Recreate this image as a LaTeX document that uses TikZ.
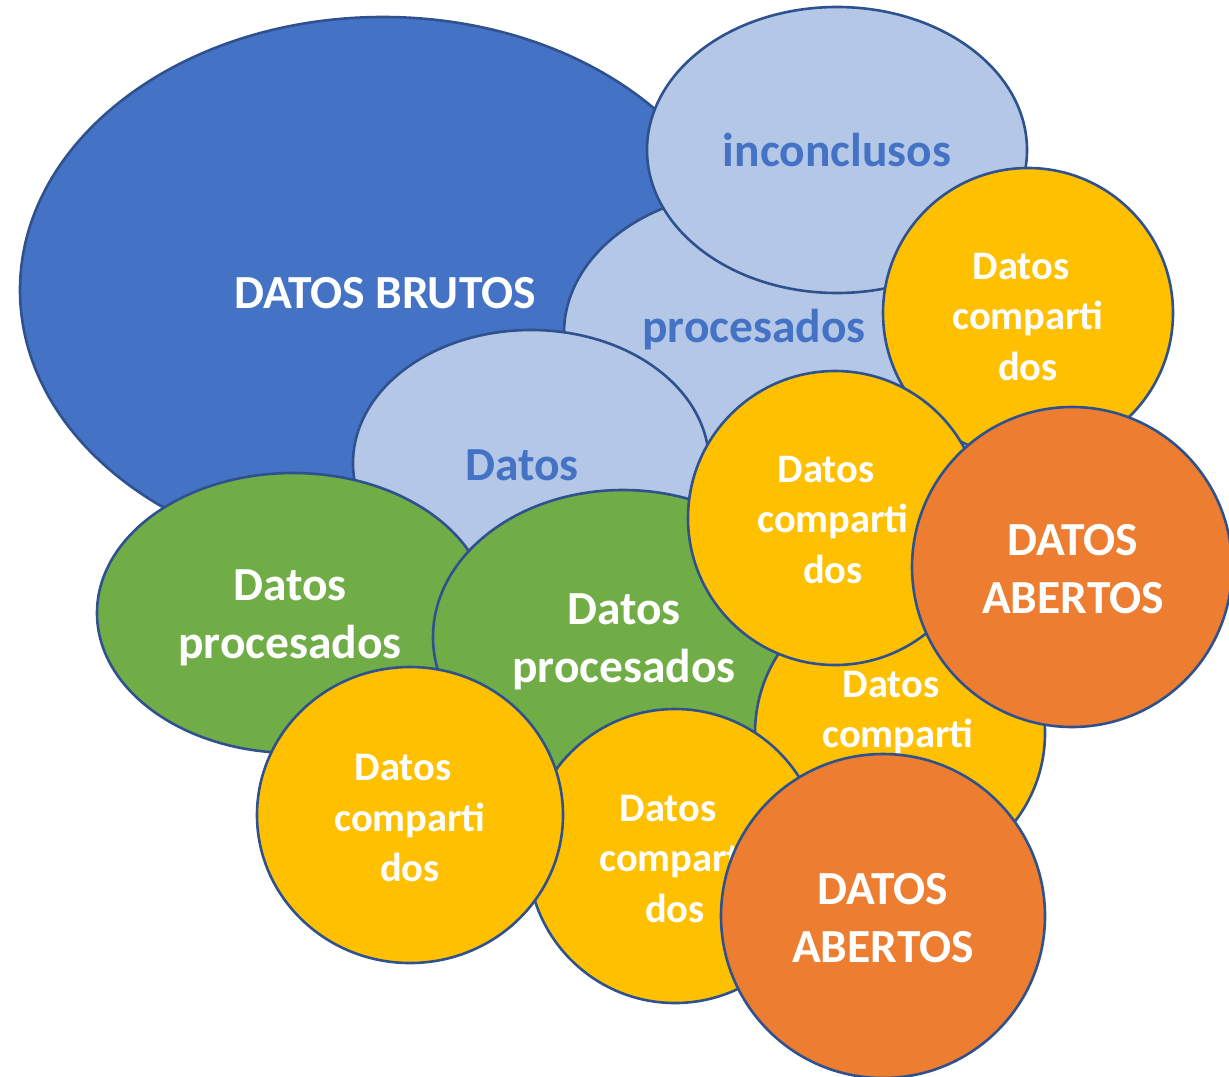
\documentclass[tikz,border=0pt]{standalone}
\usepackage{fontspec}
\setmainfont{Carlito}
\usetikzlibrary{shapes.geometric}
\definecolor{outl}{HTML}{2F528F}
\definecolor{dblue}{HTML}{4472C4}
\definecolor{lblue}{HTML}{B4C7E7}
\definecolor{dgreen}{HTML}{70AD47}
\definecolor{gold}{HTML}{FFC000}
\definecolor{dorange}{HTML}{ED7D31}
\begin{document}
\begin{tikzpicture}[x=0.5pt,y=-0.5pt,
  blob/.style={ellipse, draw=outl, line width=1.3pt, inner sep=0pt},
  bigtxt/.style={inner sep=0pt, align=center, text=white, font=\bfseries\fontsize{23.75}{29}\selectfont},
  bluetxt/.style={bigtxt, text=dblue},
  smalltxt/.style={inner sep=0pt, align=center, text=white, font=\bfseries\fontsize{20.25}{25.4}\selectfont},
  ybl/.style={blob, fill=gold},
  orb/.style={blob, fill=dorange},
  grb/.style={blob, fill=dgreen},
  lbb/.style={blob, fill=lblue}
]
\useasboundingbox (0,0) rectangle (1229,1076);
% big blue
\node[blob, fill=dblue, minimum width=363pt, minimum height=273pt] (brutos) at (383,290) {};
\node[bigtxt] (brutosT) at (385,293) {DATOS BRUTOS};
% light blue ellipses
\node[lbb, minimum width=190pt, minimum height=142pt] (proc) at (754,333) {};
\node[bluetxt] (procT) at (754,330) {procesados};
\node[lbb, minimum width=190pt, minimum height=143pt] (inco) at (837,150) {};
\node[bluetxt] (incoT) at (837,150) {inconclusos};
\node[lbb, minimum width=178pt, minimum height=133pt] (dlb) at (531,463) {};
\node[bluetxt] (dlbT) at (522,465) {Datos};
% yellow top right
\node[ybl, minimum width=145pt, minimum height=145pt] (ytr) at (1028,313) {};
\node[smalltxt] (ytrT) at (1028,317) {Datos\rule{7pt}{0pt}\\comparti\\dos};
% greens
\node[grb, minimum width=196pt, minimum height=140pt] (gl) at (293,613) {};
\node[bigtxt] (glT) at (290,618) {Datos\\procesados};
\node[grb, minimum width=190pt, minimum height=147pt] (gm) at (623,637) {};
\node[bigtxt] (gmT) at (624,642) {Datos\\procesados};
% yellow lower right
\node[ybl, minimum width=145pt, minimum height=145pt] (ylr) at (900,733) {};
\node[smalltxt] (ylrT) at (898,735) {Datos\rule{7pt}{0pt}\\comparti\\dos};
% yellow middle
\node[ybl, minimum width=147pt, minimum height=147pt] (ym) at (835,518) {};
\node[smalltxt] (ymT) at (833,520) {Datos\rule{7pt}{0pt}\\comparti\\dos};
% orange right
\node[orb, minimum width=160pt, minimum height=160pt] (orr) at (1072,567) {};
\node[bigtxt] (orrT) at (1073,569) {DATOS\\ABERTOS};
% yellow bottom middle
\node[ybl, minimum width=147pt, minimum height=147pt] (ybm) at (675,856) {};
\node[smalltxt] (ybmT) at (675,859) {Datos\rule{7pt}{0pt}\\comparti\\dos};
% yellow bottom left
\node[ybl, minimum width=153pt, minimum height=148pt] (ybl) at (410,815) {};
\node[smalltxt] (yblT) at (410,818) {Datos\rule{7pt}{0pt}\\comparti\\dos};
% orange bottom
\node[orb, minimum width=162pt, minimum height=162pt] (orb) at (883,916) {};
\node[bigtxt] (orbT) at (883,918) {DATOS\\ABERTOS};
\end{tikzpicture}
\end{document}
